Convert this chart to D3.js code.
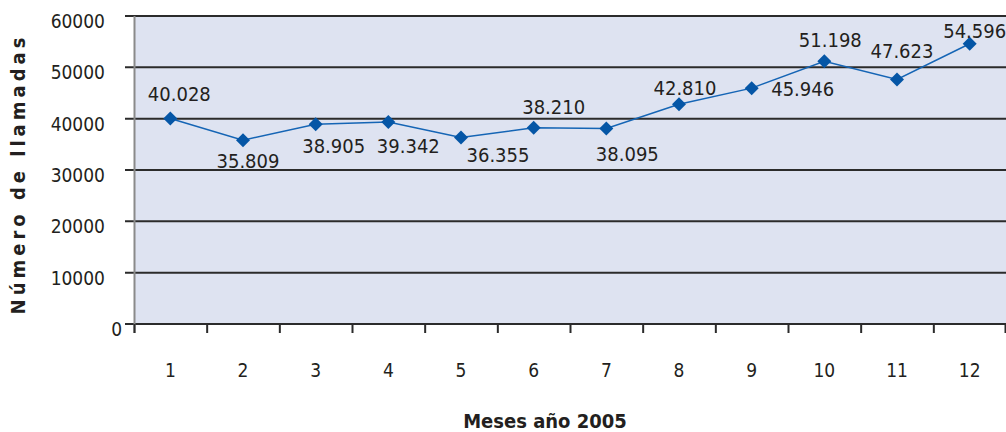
<!DOCTYPE html>
<html lang="es">
	<head>
		<meta charset="utf-8">
		<title>Número de llamadas 2005</title>
		<script type="text/javascript" src="https://d3js.org/d3.v7.min.js"></script>
		<style type="text/css">
			body { margin: 0; background: #fff; }
			text { font-family: "DejaVu Sans Condensed", "DejaVu Sans", sans-serif; font-stretch: condensed; fill: #231f20; }
		</style>
	</head>
	<body>
		<script type="text/javascript">

			// Data
			var months = ["1", "2", "3", "4", "5", "6", "7", "8", "9", "10", "11", "12"];
			var calls = [40028, 35809, 38905, 39342, 36355, 38210, 38095, 42810, 45946, 51198, 47623, 54596];
			var callLabels = ["40.028", "35.809", "38.905", "39.342", "36.355", "38.210", "38.095", "42.810", "45.946", "51.198", "47.623", "54.596"];
			var yTicks = [0, 10000, 20000, 30000, 40000, 50000, 60000];

			// where each value label sits relative to its marker (centre dx, baseline dy)
			var labelOffsets = [[9, -18], [5, 28], [18, 29], [20, 31], [37, 25], [20, -14],
				[21, 33], [6, -9], [51, 8], [6, -14], [5, -22], [5, -6]];

			//Width and height
			var w = 1006;
			var h = 432;
			var margin = { top: 16, right: 0, bottom: 108, left: 134 };

			var xScale = d3.scaleBand()
				.domain(months)
				.range([margin.left, w - margin.right]);

			var yScale = d3.scaleLinear()
				.domain([0, 60000])
				.range([h - margin.bottom, margin.top]);

			var svg = d3.select("body")
				.append("svg")
				.attr("width", w)
				.attr("height", h);

			// plot background
			svg.append("rect")
				.attr("x", margin.left)
				.attr("y", yScale(60000))
				.attr("width", w - margin.right - margin.left)
				.attr("height", yScale(0) - yScale(60000))
				.attr("fill", "#dee3f1");

			// gridlines + y labels
			var yAxis = svg.append("g");
			yAxis.selectAll("line")
				.data(yTicks)
				.enter()
				.append("line")
				.attr("x1", margin.left - 9)
				.attr("x2", w)
				.attr("y1", function(d) { return yScale(d); })
				.attr("y2", function(d) { return yScale(d); })
				.attr("stroke", "#2b2b2b")
				.attr("stroke-width", 2);

			yAxis.selectAll("text")
				.data(yTicks)
				.enter()
				.append("text")
				.attr("x", function(d) { return d === 0 ? margin.left - 12 : 105; })
				.attr("y", function(d) { return yScale(d) + 12; })
				.attr("text-anchor", "end")
				.style("font-size", "19px")
				.text(function(d) { return d; });

			// left axis line
			svg.append("line")
				.attr("x1", margin.left + 0.5)
				.attr("x2", margin.left + 0.5)
				.attr("y1", yScale(60000))
				.attr("y2", yScale(0) + 9)
				.attr("stroke", "#8a8a8a")
				.attr("stroke-width", 2);

			// x ticks at band edges
			var edges = months.map(function(m) { return xScale(m); }).concat([w - 1]);
			svg.selectAll(".xtick")
				.data(edges)
				.enter()
				.append("line")
				.attr("class", "xtick")
				.attr("x1", function(d) { return d + 0.5; })
				.attr("x2", function(d) { return d + 0.5; })
				.attr("y1", yScale(0))
				.attr("y2", yScale(0) + 9)
				.attr("stroke", "#2b2b2b")
				.attr("stroke-width", 2);

			svg.selectAll(".xlabel")
				.data(months)
				.enter()
				.append("text")
				.attr("class", "xlabel")
				.attr("x", function(d) { return xScale(d) + xScale.bandwidth() / 2; })
				.attr("y", 377)
				.attr("text-anchor", "middle")
				.style("font-size", "19px")
				.text(function(d) { return d; });

			// line
			var line = d3.line()
				.x(function(d, i) { return xScale(months[i]) + xScale.bandwidth() / 2; })
				.y(function(d) { return yScale(d); });

			svg.append("path")
				.datum(calls)
				.attr("d", line)
				.attr("fill", "none")
				.attr("stroke", "#1565b5")
				.attr("stroke-width", 1.5);

			// diamond markers
			svg.selectAll(".marker")
				.data(calls)
				.enter()
				.append("path")
				.attr("class", "marker")
				.attr("d", "M0,-7L7,0L0,7L-7,0Z")
				.attr("transform", function(d, i) {
					return "translate(" + (xScale(months[i]) + xScale.bandwidth() / 2) + "," + yScale(d) + ")";
				})
				.attr("fill", "#0556a6");

			// value labels
			svg.selectAll(".vlabel")
				.data(calls)
				.enter()
				.append("text")
				.attr("class", "vlabel")
				.attr("x", function(d, i) { return xScale(months[i]) + xScale.bandwidth() / 2 + labelOffsets[i][0]; })
				.attr("y", function(d, i) { return yScale(d) + labelOffsets[i][1]; })
				.attr("text-anchor", "middle")
				.style("font-size", "20px")
				.text(function(d, i) { return callLabels[i]; });

			// axis titles
			svg.append("text")
				.attr("x", 545)
				.attr("y", 428)
				.attr("text-anchor", "middle")
				.style("font-size", "20px")
				.style("font-weight", "bold")
				.text("Meses año 2005");

			svg.append("text")
				.attr("transform", "translate(25,174) rotate(-90)")
				.attr("text-anchor", "middle")
				.style("font-size", "20px")
				.style("font-weight", "bold")
				.style("letter-spacing", "4px")
				.text("Número de llamadas");

		</script>
	</body>
</html>
